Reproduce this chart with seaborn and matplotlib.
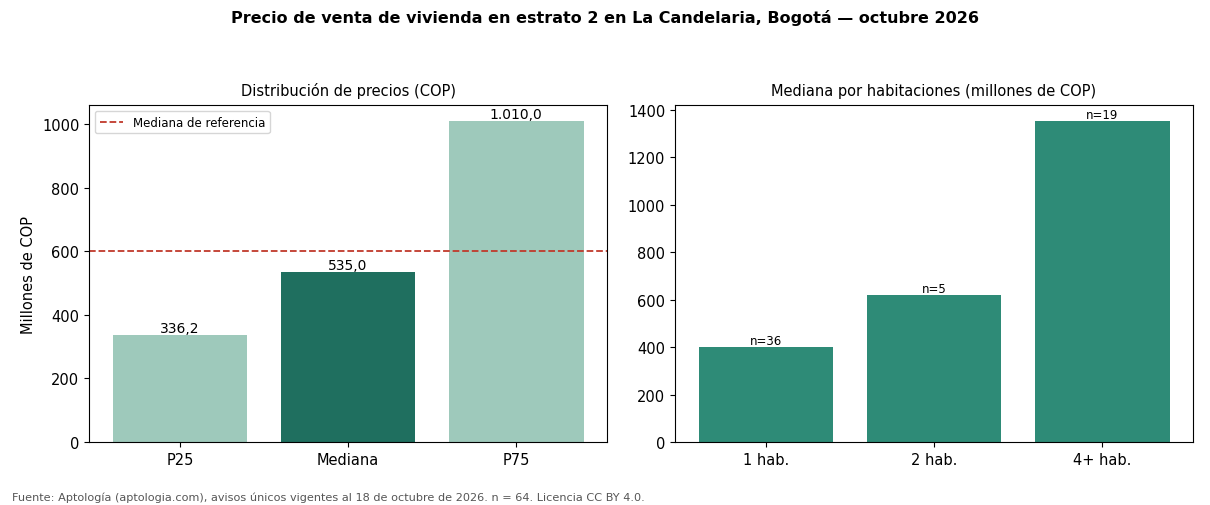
import pandas as pd
import seaborn as sns
import matplotlib
matplotlib.use("Agg")
import matplotlib.pyplot as plt

# data
percentiles = ["P25", "Mediana", "P75"]
precios = [336.2, 535.0, 1010.0]
mediana_ref = 600

habitaciones = ["1 hab.", "2 hab.", "4+ hab."]
mediana_hab = [400, 620, 1352]
n_hab = [36, 5, 19]

palette_left = {"P25": "#9ec9bb", "Mediana": "#1f6f5f", "P75": "#9ec9bb"}
color_right = "#2e8b77"

plt.rcParams['font.family'] = ['DejaVu Sans']

fig, (ax1, ax2) = plt.subplots(1, 2, figsize=(12.1, 5.06), dpi=100)
fig.subplots_adjust(left=0.0736, right=0.986, top=0.7905, bottom=0.1245, wspace=0.131)

df_p = pd.DataFrame({"cat": percentiles, "val": precios})
sns.barplot(data=df_p, x="cat", y="val", hue="cat", palette=palette_left,
            legend=False, ax=ax1, width=0.8, saturation=1, linewidth=0)

def fmt_es(v):
    s = f"{v:,.1f}"
    return s.replace(",", "X").replace(".", ",").replace("X", ".")

for p, v in zip(ax1.patches, precios):
    ax1.text(p.get_x() + p.get_width() / 2, p.get_height(), fmt_es(v),
             ha="center", va="bottom", fontsize=10)

ax1.axhline(mediana_ref, color="#c0392b", linestyle="--", linewidth=1.3,
            label="Mediana de referencia")
ax1.legend(loc="upper left", fontsize=8.5, frameon=True)
ax1.set_ylim(0, 1060.5)
ax1.set_xlim(-0.54, 2.54)
ax1.set_xlabel("")
ax1.set_ylabel("Millones de COP", fontsize=10.5)
ax1.set_title("Distribución de precios (COP)", fontsize=10.5, pad=7)

df_h = pd.DataFrame({"hab": habitaciones, "val": mediana_hab})
sns.barplot(data=df_h, x="hab", y="val", color=color_right, ax=ax2, width=0.8,
            saturation=1, linewidth=0)
for p, n in zip(ax2.patches, n_hab):
    ax2.text(p.get_x() + p.get_width() / 2, p.get_height(), f"n={n}",
             ha="center", va="bottom", fontsize=8.5)
ax2.set_ylim(0, 1420)
ax2.set_xlim(-0.54, 2.54)
ax2.set_xlabel("")
ax2.set_ylabel("")
ax2.set_title("Mediana por habitaciones (millones de COP)", fontsize=10.5, pad=7)

for ax in (ax1, ax2):
    ax.tick_params(labelsize=10.5)

fig.suptitle("Precio de venta de vivienda en estrato 2 en La Candelaria, Bogotá — octubre 2026",
             fontsize=11.5, fontweight="bold", y=0.98)
fig.text(0.01, 0.01,
         "Fuente: Aptología (aptologia.com), avisos únicos vigentes al 18 de octubre de 2026. n = 64. Licencia CC BY 4.0.",
         fontsize=8.15, color="#555555")

fig.savefig("out.png", dpi=100)
